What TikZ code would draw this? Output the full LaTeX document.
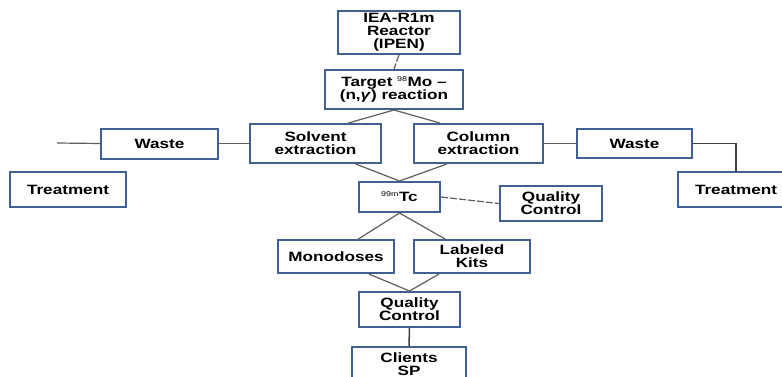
\documentclass[tikz,border=0pt]{standalone}
\usepackage{fontspec}
\setmainfont{Liberation Sans}[FakeStretch=1.27]
\usepackage{xcolor}
\usepackage{tikz}
\usetikzlibrary{positioning}

\definecolor{boxblue}{RGB}{62,96,146}
\definecolor{linegray}{RGB}{95,95,95}

\newcommand{\isotope}[1]{\textsuperscript{\mdseries\fontsize{7}{7}\selectfont #1}}

\begin{document}
\begin{tikzpicture}[
    x=1pt, y=1pt,
    font=\fontsize{13.5}{12.8}\selectfont\bfseries,
    box/.style={
        rectangle,
        draw=boxblue,
        line width=2pt,
        fill=white,
        align=center,
        inner sep=1pt
    },
    wh/.style 2 args={
        minimum width=#1pt,
        minimum height=#2pt
    },
    link/.style={
        draw=linegray,
        line width=1.2pt
    },
    dashlink/.style={
        link,
        dash pattern=on 7pt off 2pt
    },
    darklink/.style={
        draw=black!75,
        line width=1.5pt
    }
]

\useasboundingbox (0,0) rectangle (782,-376);
\fill[white] (0,0) rectangle (782,-376);

% --- Reactor and target ------------------------------------------------------

\node[box, wh={122}{43}] (reactor) at (399,-32.5) {IEA-R1m\\Reactor\\(IPEN)};

\node[box, wh={138}{39}] (target) at (394,-89.5)
    {Target \isotope{98}Mo --\\(n,\textit{γ}) reaction};

% --- Extraction row ----------------------------------------------------------

\node[box, wh={131}{39}] (solvent) at (315.5,-143.5) {Solvent\\extraction};
\node[box, wh={129}{39}, right=31pt of solvent] (column) {Column\\extraction};

\node[box, wh={117}{30}, left=30pt of solvent] (wasteL) {Waste};
\node[box, wh={115}{29}, right=32pt of column] (wasteR) {Waste};

\node[box, wh={116}{35}] (treatL) at (68,-189.5) {Treatment};
\node[box, wh={116}{35}] (treatR) at (736,-189.5) {Treatment};

\coordinate (wasteEnd) at (57,-143);

% --- Tc and products ---------------------------------------------------------

\node[box, wh={81}{30}] (tc) at (399.5,-197) {\isotope{99m}Tc};
\node[box, wh={102}{35}] (qcTop) at (551,-203.5) {Quality\\Control};

\node[box, wh={116}{33}] (mono) at (336,-256.5) {Monodoses};
\node[box, wh={116}{33}, right=18pt of mono] (kits) {Labeled\\Kits};

\node[box, wh={101}{35}] (qcBot) at (409.5,-309.5) {Quality\\Control};
\node[box, wh={114}{35}] (clients) at (409,-364.5) {Clients\\SP};

% --- Connectors --------------------------------------------------------------

\draw[dashlink] (reactor.south) -- (target.north);

\draw[link] (target.south) -- (solvent.32);
\draw[link] (target.south) -- (column.152);

\draw[link] (wasteEnd) -- (wasteL.west);
\draw[link] (wasteL.east) -- (solvent.west);
\draw[link] (column.east) -- (wasteR.west);
\draw[darklink] (wasteR.east) -| (treatR.north);

\draw[link] (solvent.333) -- (tc.north);
\draw[link] (column.213) -- (tc.north);
\draw[dashlink] (tc.east) -- (qcTop.west);

\draw[link] (tc.south) -- (mono.38);
\draw[link] (tc.south) -- (kits.147);

\draw[link] (mono.332) -- (qcBot.north);
\draw[link] (kits.208) -- (qcBot.north);
\draw[darklink] (qcBot.south) -- (clients.north);

\end{tikzpicture}
\end{document}
